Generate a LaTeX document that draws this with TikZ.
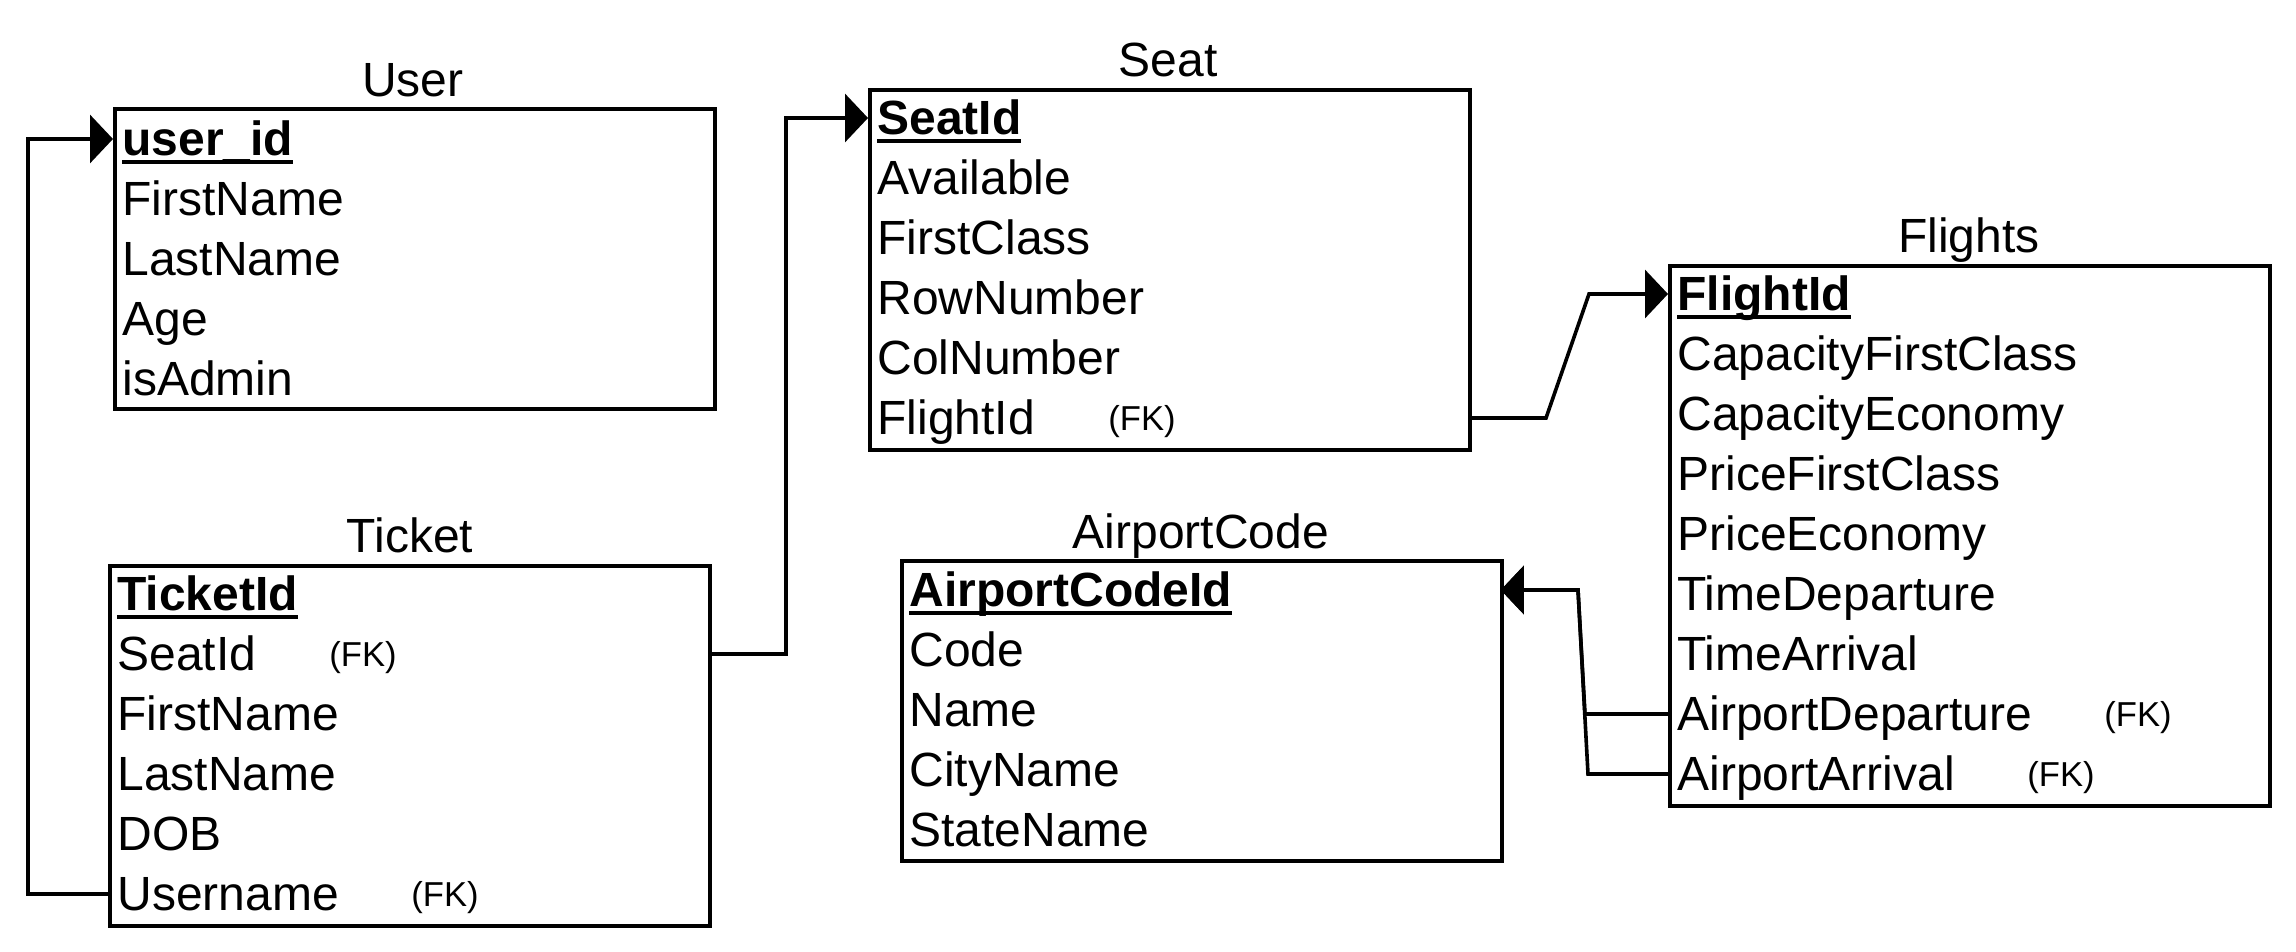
\documentclass[tikz,border=0pt]{standalone}
\usepackage{fontspec}
\setmainfont{Liberation Sans}
\usetikzlibrary{arrows.meta}
\newcommand\pkey[1]{\setbox0\hbox{\bfseries #1}\rlap{\rule[-4pt]{\wd0}{1.7pt}}\box0}
\tikzset{
 tbl/.style={draw, line width=2.2pt, rectangle, minimum width=300pt, inner sep=0pt, anchor=north west},
 fld/.style={anchor=west, inner xsep=4.5pt, inner ysep=0pt, text width=291pt, align=left, minimum height=30pt, font=\fontsize{24}{28}\selectfont, text height=20pt, text depth=3.2pt},
 ttl/.style={inner sep=0pt, font=\fontsize{24}{28}\selectfont, text height=20pt, text depth=3.2pt},
 fk/.style={anchor=west, inner sep=0pt, font=\fontsize{17.3}{20}\selectfont, text height=14pt, text depth=1.8pt},
 conn/.style={line width=1.8pt},
 fkarrow/.style={conn, -{Triangle[length=11.5pt,width=24pt]}}
}
\begin{document}
\begin{tikzpicture}[x=0.5pt,y=-0.5pt]
\path[use as bounding box] (0,0) rectangle (2296,952);
% ---------- User
\node[tbl, minimum height=150pt] (user) at (113,107) {};
\node[ttl] (userT) at (413,80) {User};
\node[fld] (u0) at (113,139) {\pkey{user\_id}};
\foreach \t [count=\i] in {FirstName,LastName,Age,isAdmin}
  \node[fld] (u\i) at (113,{139+60*\i}) {\t};
% ---------- Ticket
\node[tbl, minimum height=180pt] (ticket) at (108,564) {};
\node[ttl] (ticketT) at (410,536) {Ticket};
\node[fld] (t0) at (108,594) {\pkey{TicketId}};
\foreach \t [count=\i] in {SeatId,FirstName,LastName,DOB,Username}
  \node[fld] (t\i) at (108,{594+60*\i}) {\t};
\node[fk] (tfk1) at (329,654) {(FK)};
\node[fk] (tfk5) at (411,894) {(FK)};
% ---------- Seat
\node[tbl, minimum height=180pt] (seat) at (868,88) {};
\node[ttl] (seatT) at (1168,60) {Seat};
\node[fld] (s0) at (868,118) {\pkey{SeatId}};
\foreach \t [count=\i] in {Available,FirstClass,RowNumber,ColNumber,FlightId}
  \node[fld] (s\i) at (868,{118+60*\i}) {\t};
\node[fk] (sfk5) at (1108,418) {(FK)};
% ---------- Flights
\node[tbl, minimum height=270pt] (flights) at (1668,264) {};
\node[ttl] (flightsT) at (1969,236) {Flights};
\node[fld] (f0) at (1668,294) {\pkey{FlightId}};
\foreach \t [count=\i] in {CapacityFirstClass,CapacityEconomy,PriceFirstClass,PriceEconomy,TimeDeparture,TimeArrival,AirportDeparture,AirportArrival}
  \node[fld] (f\i) at (1668,{294+60*\i}) {\t};
\node[fk] (ffk7) at (2104,714) {(FK)};
\node[fk] (ffk8) at (2027,774) {(FK)};
% ---------- AirportCode
\node[tbl, minimum height=150pt] (airport) at (900,559) {};
\node[ttl] (airportT) at (1201,532) {AirportCode};
\node[fld] (a0) at (900,590) {\pkey{AirportCodeId}};
\foreach \t [count=\i] in {Code,Name,CityName,StateName}
  \node[fld] (a\i) at (900,{590+60*\i}) {\t};
% ---------- connectors
\coordinate (lx) at (28,500);
\coordinate (mx) at (786,300);
\coordinate (d1) at (1546,418);
\coordinate (d2) at (1589,294);
\coordinate (q1) at (1585,714);
\coordinate (q2) at (1588,774);
\coordinate (q3) at (1578,590);
\draw[fkarrow] (t5.west) -- (t5.west -| lx) |- (u0.west);
\draw[fkarrow] (t1.east) -- (t1.east -| mx) |- (s0.west);
\draw[fkarrow] (s5.east) -- (s5.east -| d1) -- (f0.west -| d2) -- (f0.west);
\draw[fkarrow] (f7.west) -- (f7.west -| q1) -- (a0.east -| q3) -- (a0.east);
\draw[fkarrow] (f8.west) -- (f8.west -| q2) -- (a0.east -| q3) -- (a0.east);
\end{tikzpicture}
\end{document}
